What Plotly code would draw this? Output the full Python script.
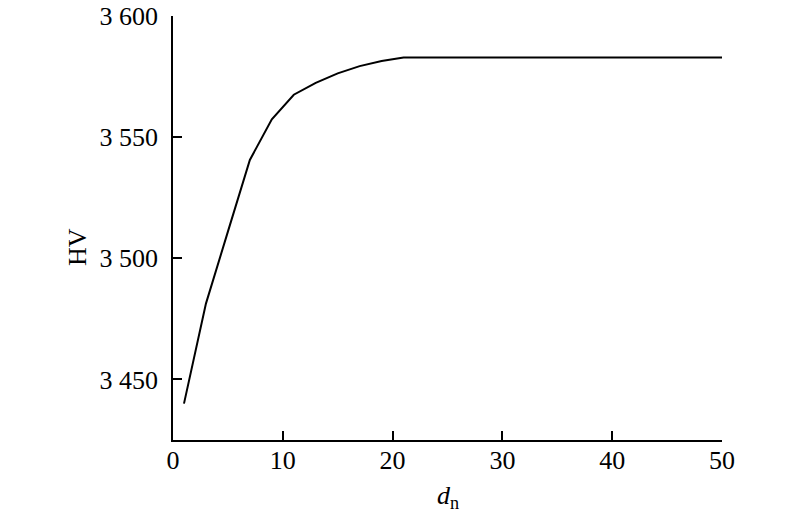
import plotly.graph_objects as go

d_n = [1, 3, 5, 7, 9, 11, 13, 15, 17, 19, 21, 25, 30, 35, 40, 45, 50]
hv = [3440.0, 3481.3, 3511.0, 3540.6, 3557.4, 3567.5, 3572.4, 3576.3, 3579.3, 3581.4, 3582.9,
      3582.9, 3582.9, 3582.9, 3582.9, 3582.9, 3582.9]

x_ticks = [0, 10, 20, 30, 40, 50]
y_ticks = [3450, 3500, 3550, 3600]
y_tick_text = ["3 450", "3 500", "3 550", "3 600"]

font_family = "Liberation Serif"

fig = go.Figure()
fig.add_trace(go.Scatter(x=d_n, y=hv, mode="lines",
                         line=dict(color="black", width=2), showlegend=False))

fig.update_layout(
    width=800, height=519,
    margin=dict(l=173, r=78, t=16, b=79, autoexpand=False),
    paper_bgcolor="white", plot_bgcolor="white",
    font=dict(family=font_family, size=26, color="black"),
)
fig.update_xaxes(
    range=[0, 50], tickvals=x_ticks, ticks="inside", ticklen=9, tickwidth=1.5,
    tickcolor="black", showline=True, linecolor="black", linewidth=1.5,
    showgrid=False, zeroline=False, automargin=False,
    ticklabelstandoff=-4,
)
fig.update_yaxes(
    range=[3425, 3600], tickvals=y_ticks, ticktext=y_tick_text, ticks="inside",
    ticklen=9, tickwidth=1.5, tickcolor="black", showline=True, linecolor="black",
    linewidth=1.5, showgrid=False, zeroline=False, automargin=False,
    ticklabelstandoff=8,
)
fig.add_annotation(text="<i>d</i><sub>n</sub>", xref="paper", yref="paper",
                   x=0.5, y=-0.135, xanchor="center", yanchor="middle",
                   showarrow=False, font=dict(size=26))
fig.add_annotation(text="HV", xref="paper", yref="paper", textangle=-90,
                   x=-0.175, y=0.455, xanchor="center", yanchor="middle",
                   showarrow=False, font=dict(size=26))

fig.write_html("out.html", config={"displayModeBar": False},
               post_script="document.body.style.margin='0';document.body.style.overflow='hidden';")
